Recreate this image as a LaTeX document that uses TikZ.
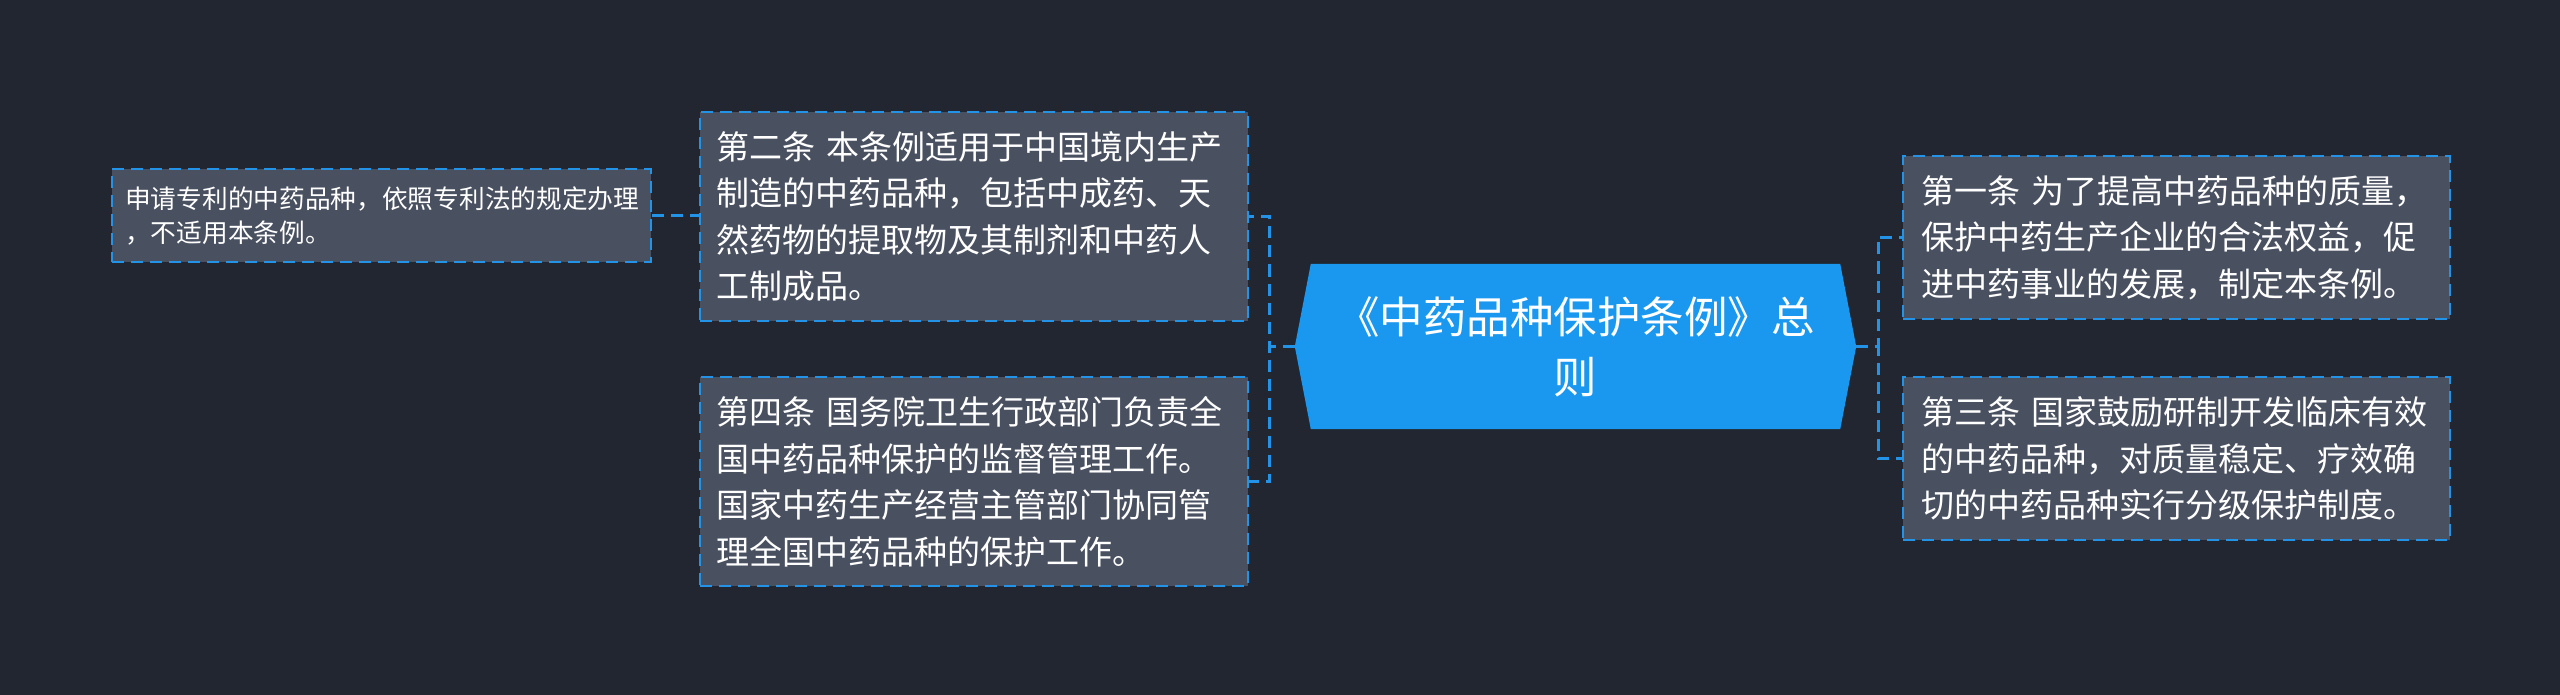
\documentclass[tikz,border=0pt]{standalone}
\usepackage{fontspec}
\setmainfont{Noto Sans CJK SC}
\newfontfamily\cjk{Noto Sans CJK SC}
\usetikzlibrary{backgrounds,calc}
\definecolor{bgc}{HTML}{222630}
\definecolor{boxfill}{HTML}{495060}
\definecolor{dashblue}{HTML}{2393E8}
\definecolor{hexblue}{HTML}{1A98EF}
\begin{document}
\begin{tikzpicture}[x=1pt,y=-1pt,
  every node/.style={text=white},
  leafbox/.style={fill=boxfill, draw=dashblue, line width=2.4pt, dash pattern=on 12pt off 7pt,
    align=left, inner ysep=0pt, anchor=north west},
  bigtext/.style={font=\cjk\fontsize{33}{46.5}\selectfont},
  smalltext/.style={font=\cjk\fontsize{25.7}{34}\selectfont},
  conn/.style={draw=dashblue, line width=2.8pt, dash pattern=on 12pt off 7pt}]
\useasboundingbox (0,0) rectangle (2560,695);
\begin{scope}[on background layer]
\fill[bgc] (0,0) rectangle (2560,695);
\end{scope}
% central topic
\node[font=\cjk\fontsize{43.5}{60}\selectfont, align=center, text width=495pt,
  minimum width=561pt, minimum height=165pt, inner sep=0pt] (c) at (1575.5,346.5)
  {《中药品种保护条例》总\\则};
\begin{scope}[on background layer]
\fill[hexblue] (c.west) -- ($(c.north west)+(16,0)$) -- ($(c.north east)+(-16,0)$) -- (c.east)
  -- ($(c.south east)+(-16,0)$) -- ($(c.south west)+(16,0)$) -- cycle;
\end{scope}
% left branch boxes
\node[leafbox, bigtext, text width=516pt, inner xsep=16pt, minimum height=209pt] (b) at (699,111)
  {第二条 本条例适用于中国境内生产\\制造的中药品种，包括中成药、天\\然药物的提取物及其制剂和中药人\\工制成品。};
\node[leafbox, bigtext, text width=516pt, inner xsep=16pt, minimum height=209pt] (d) at (699,376)
  {第四条 国务院卫生行政部门负责全\\国中药品种保护的监督管理工作。\\国家中药生产经营主管部门协同管\\理全国中药品种的保护工作。};
\node[leafbox, smalltext, text width=513pt, inner xsep=13pt, minimum height=93pt] (a) at (111,168)
  {申请专利的中药品种，依照专利法的规定办理\\，不适用本条例。};
% right branch boxes
\node[leafbox, bigtext, text width=511pt, inner xsep=18pt, minimum height=163pt] (r1) at (1902,155)
  {第一条 为了提高中药品种的质量，\\保护中药生产企业的合法权益，促\\进中药事业的发展，制定本条例。};
\node[leafbox, bigtext, text width=511pt, inner xsep=18pt, minimum height=163pt] (r3) at (1902,376)
  {第三条 国家鼓励研制开发临床有效\\的中药品种，对质量稳定、疗效确\\切的中药品种实行分级保护制度。};
% connectors
\draw[conn] (c.west) -- ++(-25,0) |- (b.east);
\draw[conn] (c.west) -- ++(-25,0) |- (d.east);
\draw[conn] (c.east) -- ++(22,0) |- (r1.west);
\draw[conn] (c.east) -- ++(22,0) |- (r3.west);
\draw[conn] (a.east) -- (a.east -| b.west);
\end{tikzpicture}
\end{document}
